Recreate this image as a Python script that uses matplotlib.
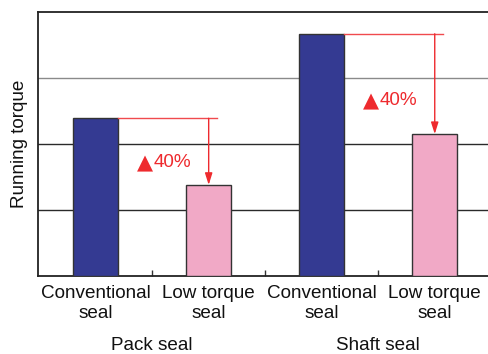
import numpy as np
import matplotlib
matplotlib.use("Agg")
import matplotlib.pyplot as plt

plt.rcParams['font.family'] = ['Liberation Sans', 'DejaVu Sans']

# running torque, arbitrary units (grid step = 1)
labels = ["Conventional\nseal", "Low torque\nseal", "Conventional\nseal", "Low torque\nseal"]
torque = [2.39, 1.38, 3.67, 2.15]
colors = ["#343a92", "#f1a9c6", "#343a92", "#f1a9c6"]
groups = ["Pack seal", "Shaft seal"]
cut = ["40%", "40%"]

fig = plt.figure(figsize=(4.89, 3.54), dpi=100)
ax = fig.add_axes([38/489, 1-276/354, 451/489, 264/354])

x = np.arange(len(torque))
w = 0.4
ax.bar(x, torque, width=w, color=colors, edgecolor="#333333", linewidth=1.0, zorder=3)

# horizontal guide lines
for yv, c in [(1, "#2a2a2a"), (2, "#2a2a2a"), (3, "#8a8a8a")]:
    ax.axhline(yv, color=c, lw=1.0, zorder=1)

ax.set_xlim(-0.51, 3.48)
ax.set_ylim(0, 4)
ax.set_yticks([])
ax.set_xticks([0.5, 1.5, 2.5])
ax.set_xticklabels([])
ax.tick_params(axis='x', direction='in', length=4.3, width=1.0, color="#333333")
ax.spines['right'].set_visible(False)
for s in ['left', 'top', 'bottom']:
    ax.spines[s].set_color("#222222")
    ax.spines[s].set_linewidth(1.3)

for xi, lab in zip(x, labels):
    ax.text(xi, -0.14, lab, ha='center', va='top', fontsize=13.6,
            linespacing=1.18, color="#111111")
for gi, g in enumerate(groups):
    ax.text(2*gi + 0.5, -0.93, g, ha='center', va='top', fontsize=13.6, color="#111111")

ax.set_ylabel("Running torque", fontsize=13.6, color="#111111", labelpad=7)

# reduction arrows
red = "#ee2a2e"
for gi in range(2):
    a, b = torque[2*gi], torque[2*gi+1]
    ax.plot([2*gi + w/2, 2*gi + 1.07], [a, a], color="#f04a4e", lw=1.0, zorder=4)
    ax.annotate("", xy=(2*gi + 1, b), xytext=(2*gi + 1, a),
                arrowprops=dict(arrowstyle="-|>,head_length=0.7,head_width=0.22",
                                color=red, lw=1.0, shrinkA=0, shrinkB=0), zorder=4)
    ty = b + 0.33*(a - b)
    ax.text(2*gi + 0.51, ty, "\u25b2", ha='right', va='center',
            fontsize=15, color=red, family=['DejaVu Sans'])
    ax.text(2*gi + 0.51, ty, cut[gi], ha='left', va='center',
            fontsize=13.6, color=red)

fig.savefig("out.png", dpi=100)
